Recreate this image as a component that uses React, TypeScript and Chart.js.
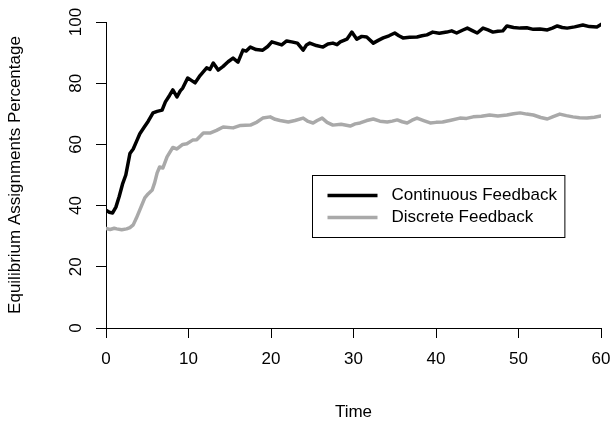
import React, { useEffect, useRef } from "react";
import { Chart, registerables } from "chart.js";

Chart.register(...registerables);

// ---- data ----
const seriesLabels = ["Continuous Feedback", "Discrete Feedback"];
const seriesColors = ["#000000", "#a9a9a9"];

const continuousTime = [
  0, 0.4, 0.8, 1.2, 1.6, 2.0, 2.4, 2.9, 3.3, 3.7, 4.1, 4.6, 5.1, 5.7, 6.2, 6.8, 7.2, 7.7, 8.1, 8.6,
  9.0, 9.3, 9.9, 10.3, 10.8, 11.4, 12.2, 12.6, 13.0, 13.6, 14.2, 14.8, 15.4, 16.0, 16.6, 17.0, 17.5,
  18.2, 19.0, 19.6, 20.1, 20.7, 21.3, 21.9, 22.5, 23.2, 23.9, 24.3, 24.7, 25.5, 26.3, 26.9, 27.5,
  28.0, 28.4, 29.2, 29.8, 30.4, 31.0, 31.6, 32.4, 33.0, 33.6, 34.3, 35.0, 35.5, 36.0, 36.8, 37.7,
  38.3, 38.9, 39.6, 40.4, 41.3, 41.9, 42.5, 43.2, 43.8, 44.4, 45.0, 45.7, 46.3, 46.9, 47.5, 48.1,
  48.6, 49.4, 50.2, 51.0, 51.8, 52.6, 53.5, 54.1, 54.7, 55.3, 55.9, 56.8, 57.8, 58.6, 59.5, 60,
];
const continuousValues = [
  38.5, 37.8, 37.6, 39.5, 43, 47, 50, 57, 58.5, 61, 63.5, 65.5, 67.5, 70.3, 70.8, 71.2, 73.9, 76, 77.8, 75.5,
  77.5, 78.4, 81.7, 81, 80.1, 82.5, 85, 84.5, 86.6, 84.3, 85.5, 87, 88.2, 86.9, 90.8, 90.5, 91.8,
  91, 90.8, 92, 93.5, 93, 92.5, 93.8, 93.5, 93.1, 90.8, 92.5, 93.1, 92.3, 91.8, 92.8, 93.1,
  92.6, 93.5, 94.4, 96.7, 94.4, 95.3, 95.1, 93.1, 94, 94.8, 95.5, 96.4, 95.5, 94.8, 95, 95.1,
  95.5, 95.8, 96.7, 96.3, 96.7, 97.1, 96.4, 97.3, 98.0, 97.2, 96.4, 98.0, 97.4, 96.7, 97, 97.1,
  98.7, 98.2, 98.0, 98.1, 97.6, 97.7, 97.4, 98, 98.7, 98.2, 98.0, 98.4, 99.0, 98.5, 98.4, 99.2,
];

const discreteTime = [
  0, 0.5, 1.0, 1.3, 1.9, 2.5, 2.9, 3.3, 3.7, 4.1, 4.7, 5.1, 5.6, 5.9, 6.2, 6.5, 6.9, 7.4, 8.1, 8.6,
  9.3, 9.8, 10.5, 11.0, 11.8, 12.6, 13.4, 14.2, 15.4, 16.3, 17.5, 18.3, 19.0, 19.9, 20.5, 21.1,
  22.1, 22.9, 23.9, 24.5, 25.1, 25.6, 26.2, 26.8, 27.5, 28.5, 29.6, 30.2, 30.8, 31.6, 32.4, 33.2,
  34.1, 34.7, 35.3, 35.9, 36.5, 37.1, 37.7, 38.5, 39.3, 40.0, 40.8, 41.8, 42.9, 43.7, 44.5, 45.5,
  46.5, 47.5, 48.6, 49.4, 50.2, 51.0, 51.8, 52.7, 53.5, 54.2, 55.0, 55.8, 56.6, 57.4, 58.3, 59.2, 60,
];
const discreteValues = [
  32.5, 32.2, 32.6, 32.4, 32.1, 32.4, 32.8, 33.7, 36, 38.6, 42.5, 43.8, 45.1, 47.5, 50.7, 52.6, 52.3, 55.9, 59.0, 58.5,
  60.0, 60.2, 61.4, 61.5, 63.7, 63.7, 64.6, 65.7, 65.4, 66.2, 66.3, 67.3, 68.6, 69.0, 68.2, 67.8,
  67.3, 67.8, 68.6, 67.5, 67.0, 67.8, 68.6, 67.2, 66.3, 66.6, 66.0, 66.7, 67.0, 67.8, 68.3, 67.6,
  67.3, 67.6, 68.0, 67.4, 67.0, 67.9, 68.6, 67.8, 67.0, 67.2, 67.3, 67.9, 68.6, 68.5, 69.0, 69.2,
  69.6, 69.3, 69.6, 70.0, 70.3, 69.9, 69.6, 68.8, 68.3, 69.1, 69.9, 69.4, 69.0, 68.7, 68.6, 68.9, 69.3,
];

const xTitle = "Time";
const yTitle = "Equilibrium Assignments Percentage";
const xMin = 0, xMax = 60, xStep = 10;
const yMin = 0, yMax = 100, yStep = 20;
// legend anchor (top-left corner) in data units
const legendAt = { x: 25, y: 50 };

const FONT = "'Liberation Sans', Arial, Helvetica, sans-serif";
const FS = 17;

const boxLegend = {
  id: "boxLegend",
  afterDatasetsDraw(chart: any) {
    const ctx = chart.ctx;
    const xs = chart.scales.x;
    const ys = chart.scales.y;
    const L = Math.round(xs.getPixelForValue(legendAt.x)) + 0.5;
    const T = Math.round(ys.getPixelForValue(legendAt.y)) + 0.5;
    ctx.save();
    ctx.font = `${FS}px ${FONT}`;
    const ds = chart.data.datasets;
    let maxW = 0;
    ds.forEach((d: any) => { maxW = Math.max(maxW, ctx.measureText(d.label).width); });
    const textX = L + 79;
    const W = textX - L + maxW + 8;
    const rowH = 22;
    const H = 62;
    ctx.fillStyle = "#ffffff";
    ctx.fillRect(L, T, W, H);
    ctx.strokeStyle = "#000000";
    ctx.lineWidth = 1;
    ctx.strokeRect(L, T, W, H);
    ds.forEach((d: any, i: number) => {
      const yy = T + 20 + i * rowH;
      ctx.beginPath();
      ctx.strokeStyle = d.borderColor;
      ctx.lineWidth = 3.5;
      ctx.lineCap = "butt";
      ctx.moveTo(L + 15, yy);
      ctx.lineTo(L + 65, yy);
      ctx.stroke();
      ctx.fillStyle = "#000000";
      ctx.textAlign = "left";
      ctx.textBaseline = "middle";
      ctx.fillText(d.label, textX, yy);
    });
    ctx.restore();
  },
};

export default function App() {
  const ref = useRef<HTMLCanvasElement | null>(null);
  useEffect(() => {
    if (!ref.current) return;
    const toPts = (t: number[], v: number[]) => t.map((x, i) => ({ x, y: v[i] }));
    const chart = new Chart(ref.current, {
      type: "line",
      data: {
        datasets: [
          {
            label: seriesLabels[0],
            data: toPts(continuousTime, continuousValues),
            borderColor: seriesColors[0],
            backgroundColor: seriesColors[0],
            borderWidth: 3.5,
            pointRadius: 0,
            tension: 0,
            borderJoinStyle: "round",
            borderCapStyle: "round",
          },
          {
            label: seriesLabels[1],
            data: toPts(discreteTime, discreteValues),
            borderColor: seriesColors[1],
            backgroundColor: seriesColors[1],
            borderWidth: 3.5,
            pointRadius: 0,
            tension: 0,
            borderJoinStyle: "round",
            borderCapStyle: "round",
          },
        ],
      },
      options: {
        animation: false,
        responsive: false,
        devicePixelRatio: 1,
        layout: { padding: { top: 22, right: 15, left: 0, bottom: 0 } },
        plugins: {
          legend: { display: false },
          tooltip: { enabled: false },
        },
        scales: {
          x: {
            type: "linear",
            min: xMin,
            max: xMax,
            ticks: {
              stepSize: xStep,
              color: "#000",
              font: { family: FONT, size: FS },
              padding: 11,
              maxRotation: 0,
            },
            grid: { drawOnChartArea: false, drawTicks: true, tickLength: 10, tickColor: "#000", color: "#000" },
            border: { display: true, color: "#000", width: 1 },
            title: { display: true, text: xTitle, color: "#000", font: { family: FONT, size: FS }, padding: { top: 0, bottom: 1 } },
            afterFit: (s: any) => { s.height = 96; s.paddingLeft = 0; s.paddingRight = 0; },
          },
          y: {
            type: "linear",
            min: yMin,
            max: yMax,
            ticks: {
              stepSize: yStep,
              color: "#000",
              font: { family: FONT, size: FS },
              padding: 6,
              minRotation: 90,
              maxRotation: 90,
              crossAlign: "center",
            },
            grid: { drawOnChartArea: false, drawTicks: true, tickLength: 10, tickColor: "#000", color: "#000" },
            border: { display: true, color: "#000", width: 1 },
            title: { display: true, text: yTitle, color: "#000", font: { family: FONT, size: FS }, padding: { top: 5, bottom: 0 } },
            afterFit: (s: any) => { s.width = 106; s.paddingTop = 0; s.paddingBottom = 0; },
          },
        },
      },
      plugins: [boxLegend],
    } as any);
    return () => chart.destroy();
  }, []);
  return (
    <div style={{ position: "absolute", left: 0, top: 0, width: 616, height: 424, background: "#fff" }}>
      <canvas ref={ref} width={616} height={424} style={{ display: "block" }} />
    </div>
  );
}
